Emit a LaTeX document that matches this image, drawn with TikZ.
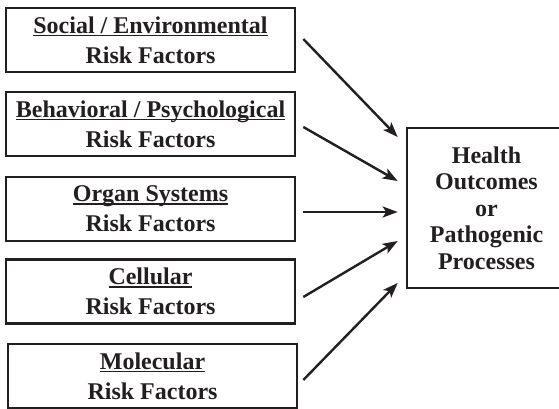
\documentclass[tikz,border=0pt]{standalone}
\usepackage{fontspec}
\setmainfont{Liberation Serif}
\usetikzlibrary{arrows.meta,calc}
\definecolor{ink}{HTML}{231F20}
\newcommand\myul[1]{\setbox0\hbox{#1}\rlap{\rule[-3pt]{\wd0}{1.4pt}}\box0}
\begin{document}
\begin{tikzpicture}[x=1pt,y=-1pt,
  rf/.style={draw=ink,line width=2.6pt,minimum width=289pt,minimum height=64pt,inner sep=0pt,
    align=center,text=ink,font=\bfseries\fontsize{24}{30}\selectfont},
  hb/.style={draw=ink,line width=2.6pt,minimum width=159pt,minimum height=160pt,inner sep=0pt,
    align=center,text=ink,font=\bfseries\fontsize{24}{26.5}\selectfont},
  arr/.style={draw=ink,line width=2.4pt,-{Stealth[length=15pt,width=11pt,inset=3.5pt]}}]
\useasboundingbox[clip] (0,0) rectangle (559,409);
\fill[white] (0,0) rectangle (559,409);
\node[rf] (b1) at (150.5,40) {\myul{Social / Environmental}\\Risk Factors};
\node[rf] (b2) at (150.5,124) {\myul{Behavioral / Psychological}\\Risk Factors};
\node[rf] (b3) at (150.5,209) {\myul{Organ Systems}\\Risk Factors};
\node[rf] (b4) at (150.5,291.5) {\myul{Cellular}\\Risk Factors};
\node[rf] (b5) at (152.5,376) {\myul{Molecular}\\Risk Factors};
\node[hb] (h) at (486.5,208) {Health\\Outcomes\\or\\Pathogenic\\Processes};
\coordinate (s1) at ($(b1.east)+(7,-1)$);
\coordinate (s2) at ($(b2.east)+(7,3)$);
\coordinate (s3) at ($(b3.east)+(7,3)$);
\coordinate (s4) at ($(b4.east)+(7,5.5)$);
\coordinate (s5) at ($(b5.east)+(5,4)$);
\coordinate (e1) at ($(h.west)+(-8,-71)$);
\coordinate (e2) at ($(h.west)+(-8,-27)$);
\coordinate (e3) at ($(h.west)+(-8,4)$);
\coordinate (e4) at ($(h.west)+(-8,33)$);
\coordinate (e5) at ($(h.west)+(-8,75)$);
\draw[arr] (s1) -- (e1);
\draw[arr] (s2) -- (e2);
\draw[arr] (s3) -- (e3);
\draw[arr] (s4) -- (e4);
\draw[arr] (s5) -- (e5);
\end{tikzpicture}
\end{document}
